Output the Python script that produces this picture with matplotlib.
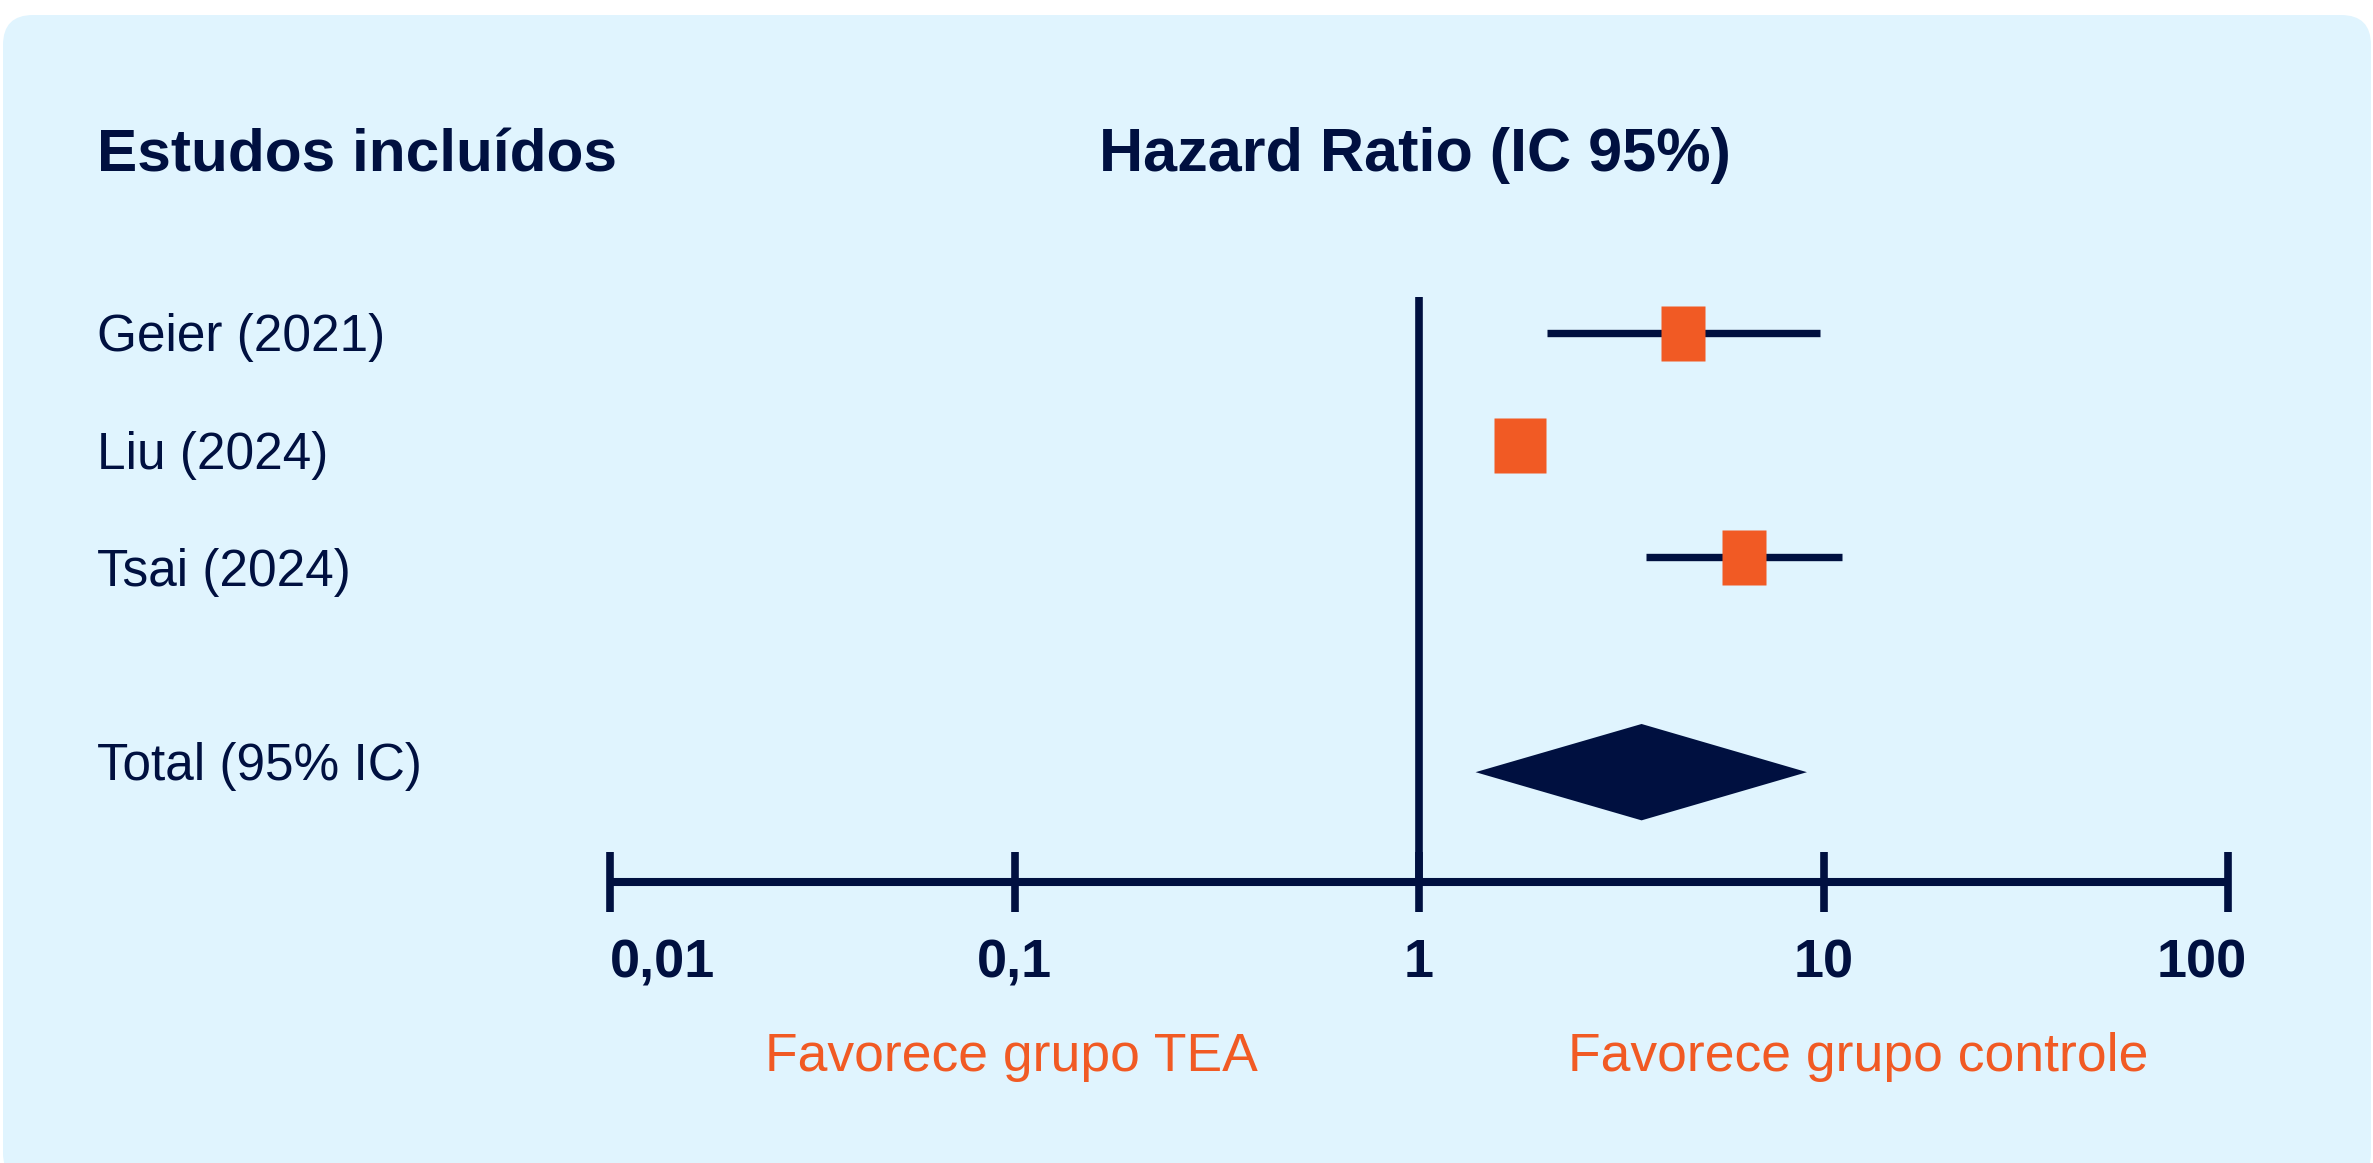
import matplotlib
matplotlib.use("Agg")
import matplotlib.pyplot as plt
import matplotlib.transforms as mtransforms
from matplotlib.patches import FancyBboxPatch
from matplotlib.path import Path
from matplotlib.ticker import NullLocator

# --- data ---
studies = ["Geier (2021)", "Liu (2024)", "Tsai (2024)"]
hr = [4.5, 1.78, 6.35]
ci_low = [2.07, 1.62, 3.65]
ci_high = [9.8, 1.95, 11.1]

total_label = "Total (95% IC)"
total_hr = 3.55
total_low = 1.38
total_high = 9.1

ticks = [0.01, 0.1, 1, 10, 100]
tick_labels = ["0,01", "0,1", "1", "10", "100"]

NAVY = "#001040"
ORANGE = "#F15A24"
BG = "#E0F4FE"
FAM = ["Liberation Sans Narrow", "Liberation Sans", "DejaVu Sans"]

W, H = 2373, 1163


def fx(p):
    return p / W


def fy(p):
    return 1 - p / H


def rect_marker(w):
    # w = width / height of the box
    hw = w / 2
    verts = [(-hw, -0.5), (hw, -0.5), (hw, 0.5), (-hw, 0.5), (-hw, -0.5)]
    return Path(verts, [Path.MOVETO, Path.LINETO, Path.LINETO, Path.LINETO, Path.CLOSEPOLY])


fig = plt.figure(figsize=(W / 100, H / 100), dpi=100)
fig.patch.set_facecolor("white")

bg = FancyBboxPatch((0.03, -0.2), 23.68, 11.68,
                    boxstyle="round,pad=0,rounding_size=0.3",
                    transform=fig.dpi_scale_trans, fc=BG, ec="none", zorder=-5)
fig.patches.append(bg)

ax = fig.add_axes([fx(610), fy(882), fx(2228) - fx(610), fy(297) - fy(882)])
ax.set_zorder(1)
ax.patch.set_alpha(0)
ax.set_xscale("log")
ax.set_xlim(ticks[0], ticks[-1])
ax.set_ylim(4.9, -0.32)

for s in ["top", "left", "right"]:
    ax.spines[s].set_visible(False)
ax.spines["bottom"].set_linewidth(5.8)
ax.spines["bottom"].set_color(NAVY)
ax.spines["bottom"].set_capstyle("butt")

ax.set_xticks(ticks)
ax.xaxis.set_minor_locator(NullLocator())
ax.set_yticks([])
ax.tick_params(axis="x", direction="inout", length=42.5, width=5.5,
               color=NAVY, labelbottom=False)

# reference line at HR = 1
ax.axvline(1, color=NAVY, lw=5.5, solid_capstyle="butt", zorder=2)

rows = [0, 1, 2]
total_row = 3.92

lc = ax.hlines(rows, ci_low, ci_high, color=NAVY, lw=5.3, zorder=2)
lc.set_capstyle("butt")

box_w = [0.8, 0.93, 0.8]
for i in range(len(studies)):
    ax.plot(hr[i], rows[i], ls="none", marker=rect_marker(box_w[i]), ms=39.6,
            mfc=ORANGE, mec="none", zorder=3)

dh = 0.43
ax.fill([total_low, total_hr, total_high, total_hr],
        [total_row, total_row - dh, total_row, total_row + dh],
        color=NAVY, lw=0, zorder=3)

# headers
fig.text(fx(97), fy(171), "Estudos incluídos", fontsize=43.5, fontweight="bold",
         color=NAVY, ha="left", va="baseline", family=FAM)
fig.text(fx(1415), fy(171), "Hazard Ratio (IC 95%)", fontsize=44, fontweight="bold",
         color=NAVY, ha="center", va="baseline", family=FAM)

# study labels
label_base = [351, 469, 586]
for name, b in zip(studies, label_base):
    fig.text(fx(97), fy(b), name, fontsize=37, color=NAVY,
             ha="left", va="baseline", family=FAM)
fig.text(fx(97), fy(780), total_label, fontsize=37, color=NAVY,
         ha="left", va="baseline", family=FAM)

# tick labels
trans = mtransforms.blended_transform_factory(ax.transData, fig.transFigure)
for i, (t, lab) in enumerate(zip(ticks, tick_labels)):
    ha = "center"
    tr = trans
    if i == 0:
        ha = "left"
    elif i == len(ticks) - 1:
        ha = "right"
        tr = trans + mtransforms.ScaledTranslation(0.19, 0, fig.dpi_scale_trans)
    ax.text(t, fy(977), lab, transform=tr, fontsize=39, fontweight="bold",
            color=NAVY, ha=ha, va="baseline", family=FAM)

# favour labels
fig.text(fx(1011), fy(1071), "Favorece grupo TEA", fontsize=38.5, color=ORANGE,
         ha="center", va="baseline", family=FAM)
fig.text(fx(1858), fy(1071), "Favorece grupo controle", fontsize=38.5, color=ORANGE,
         ha="center", va="baseline", family=FAM)

fig.savefig("out.png", dpi=100, facecolor="white")
